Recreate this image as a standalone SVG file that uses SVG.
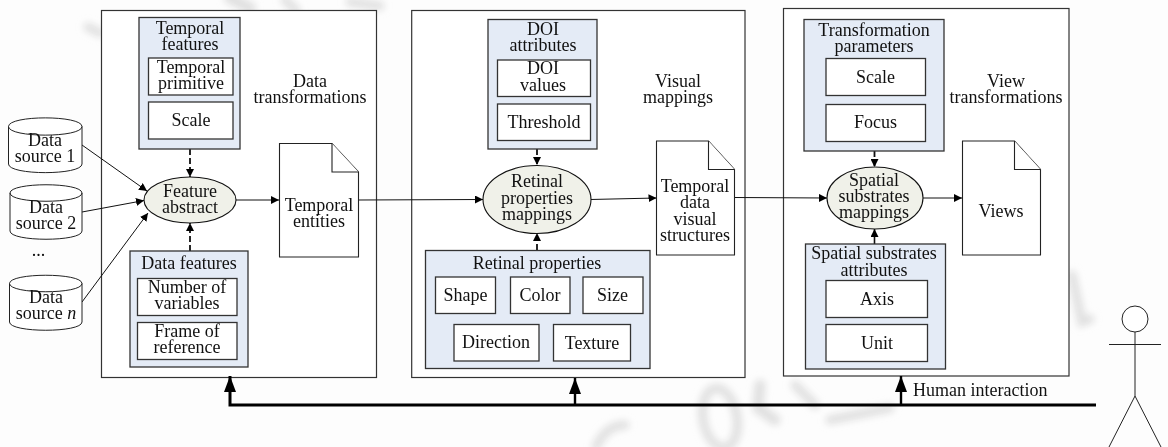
<svg xmlns="http://www.w3.org/2000/svg" width="1168" height="447" viewBox="0 0 1168 447">
<style>
text{font-family:"Liberation Serif","Times New Roman",serif;font-size:18px;fill:#111;text-anchor:middle}
.panel{fill:#fff;stroke:#333;stroke-width:1.2}
.group{fill:#e4ebf6;stroke:#333;stroke-width:1.3}
.item{fill:#fff;stroke:#333;stroke-width:1.3}
.oval{fill:#f0f1e9;stroke:#111;stroke-width:1.1}
.doc{fill:#fff;stroke:#222;stroke-width:1.1;stroke-linejoin:miter}
.cyl{fill:#fff;stroke:#222;stroke-width:1}
.arc{fill:none;stroke:#222;stroke-width:1}
.flow{fill:none;stroke:#111;stroke-width:1;marker-end:url(#a)}
.dash{fill:none;stroke:#111;stroke-width:1.8;stroke-dasharray:6 3;marker-end:url(#a)}
.solid{fill:none;stroke:#111;stroke-width:1.6;marker-end:url(#a)}
.thick{fill:none;stroke:#000;stroke-width:3;marker-end:url(#c)}
.stem{fill:none;stroke:#000;stroke-width:2.4;marker-end:url(#c)}
.wm{fill:none;stroke:#e0e0e0;stroke-linecap:round}
</style>
<defs>
<marker id="a" markerUnits="userSpaceOnUse" markerWidth="9" markerHeight="8" refX="8" refY="4" orient="auto"><path d="M0 0L8 4L0 8Z" fill="#000"/></marker>
<marker id="c" markerUnits="userSpaceOnUse" markerWidth="17" markerHeight="13" refX="16" refY="6" orient="auto"><path d="M0 0L16 6L0 12Z" fill="#000"/></marker>
<filter id="blur" x="-50%" y="-50%" width="200%" height="200%"><feGaussianBlur stdDeviation="3.500"/></filter>
</defs>
<rect id="background" width="1168" height="447" fill="#fdfdfd"/>
<g id="watermark" filter="url(#blur)">
<path class="wm" stroke-width="9" d="M88 27L100 33"/>
<path class="wm" stroke-width="12" d="M230 -2L250 8"/>
<path class="wm" stroke-width="9" d="M285 0L296 10"/>
<path class="wm" stroke-width="9" d="M350 2L380 6"/>
<ellipse class="wm" stroke-width="9" cx="720" cy="418" rx="17" ry="30" transform="rotate(-10 720 418)"/>
<path class="wm" stroke-width="11" d="M760 385L758 408L775 420"/>
<path class="wm" stroke-width="9" d="M596 447Q606 425 625 425"/>
<path class="wm" stroke-width="9" d="M1072 275L1082 322L1090 319"/>
<path class="wm" stroke-width="9" d="M795 385L815 405"/>
<path class="wm" stroke-width="9" d="M830 420L890 408"/>
</g>
<g id="panel-data-transformations"><rect class="panel" x="101.500" y="10.500" width="275" height="367"/><text x="310" y="87">Data</text><text x="310" y="103">transformations</text></g>
<g id="panel-visual-mappings"><rect class="panel" x="411.700" y="10.500" width="333.300" height="367"/><text x="678" y="87">Visual</text><text x="678" y="103">mappings</text></g>
<g id="panel-view-transformations"><rect class="panel" x="783.500" y="8.500" width="285.500" height="367.500"/><text x="1006" y="87">View</text><text x="1006" y="103">transformations</text></g>

<g id="connectors">
<path class="flow" d="M82 145L147 191"/>
<path class="flow" d="M82 212L144 200.500"/>
<path class="flow" d="M82 302L148 213"/>
<path class="flow" d="M236 200H279"/>
<path class="flow" d="M358.500 200L483 199.500"/>
<path class="flow" d="M590 199.500L656.500 198"/>
<path class="flow" d="M734.500 197.500L827 198"/>
<path class="flow" d="M923 198H962"/>
<path class="dash" d="M190 149V177"/>
<path class="dash" d="M190 251V223"/>
<path class="dash" d="M537 149V165"/>
<path class="dash" d="M537 250V233"/>
<path class="dash" d="M874.500 151V167"/>
<path class="solid" d="M874.500 244V229"/>
<path class="thick" d="M1096 405H230V376"/>
<path class="stem" d="M575 404V378"/>
<path class="stem" d="M901 404V376"/>
</g>

<g id="source-1"><path class="cyl" d="M8.500 126.500C8.500 115 82 115 82 126.500V164C82 175.500 8.500 175.500 8.500 164Z"/><path class="arc" d="M8.500 126.500C8.500 138 82 138 82 126.500"/><text x="45" y="146">Data</text><text x="45" y="162">source 1</text></g>
<g id="source-2"><path class="cyl" d="M10 193C10 182 82 182 82 193V231C82 242 10 242 10 231Z"/><path class="arc" d="M10 193C10 204 82 204 82 193"/><text x="46" y="213">Data</text><text x="46" y="229">source 2</text></g>
<text id="ellipsis" x="38.500" y="256">...</text>
<g id="source-n"><path class="cyl" d="M9.500 283.500C9.500 272.500 82 272.500 82 283.500V322C82 333 9.500 333 9.500 322Z"/><path class="arc" d="M9.500 283.500C9.500 294.500 82 294.500 82 283.500"/><text x="46" y="303">Data</text><text x="46" y="319">source <tspan font-style="italic">n</tspan></text></g>

<g id="temporal-features"><rect class="group" x="139" y="17.500" width="101" height="131.500"/><text x="190" y="33.500">Temporal</text><text x="190" y="50">features</text>
<rect class="item" x="148.500" y="58" width="84.500" height="37"/><text x="191" y="72.500">Temporal</text><text x="191" y="89">primitive</text>
<rect class="item" x="148.500" y="102" width="84.500" height="37"/><text x="191" y="126">Scale</text></g>
<g id="data-features"><rect class="group" x="130" y="251" width="118" height="116"/><text x="189" y="269">Data features</text>
<rect class="item" x="137.500" y="278.500" width="99.500" height="37"/><text x="187" y="293">Number of</text><text x="187" y="309">variables</text>
<rect class="item" x="137.500" y="322.500" width="99.500" height="37"/><text x="187" y="337">Frame of</text><text x="187" y="353">reference</text></g>
<g id="feature-abstract"><ellipse class="oval" cx="190" cy="200" rx="46" ry="23"/><text x="190" y="197">Feature</text><text x="190" y="213">abstract</text></g>
<g id="temporal-entities"><path class="doc" d="M279.500 143.500H332L358.500 172V257H279.500Z"/><path class="doc" fill="none" d="M332 143.500V172H358.500"/><text x="319" y="211">Temporal</text><text x="319" y="227">entities</text></g>

<g id="doi-attributes"><rect class="group" x="488" y="19.500" width="109" height="129.500"/><text x="543" y="35">DOI</text><text x="543" y="51">attributes</text>
<rect class="item" x="497.500" y="60" width="93" height="36.500"/><text x="543" y="74">DOI</text><text x="543" y="90.500">values</text>
<rect class="item" x="497.500" y="104" width="93" height="36.500"/><text x="544" y="128">Threshold</text></g>
<g id="retinal-mappings"><ellipse class="oval" cx="537" cy="199.500" rx="54" ry="34"/><text x="537" y="187">Retinal</text><text x="537" y="204">properties</text><text x="537" y="220">mappings</text></g>
<g id="retinal-properties"><rect class="group" x="425.500" y="250.500" width="224.500" height="118"/><text x="537" y="269">Retinal properties</text>
<rect class="item" x="435.500" y="277" width="60" height="36.500"/><text x="465.500" y="301">Shape</text>
<rect class="item" x="510.500" y="277" width="59.500" height="36.500"/><text x="540" y="301">Color</text>
<rect class="item" x="583" y="277" width="60" height="36.500"/><text x="612.500" y="301">Size</text>
<rect class="item" x="454" y="324.500" width="85" height="36.500"/><text x="496" y="348">Direction</text>
<rect class="item" x="553.500" y="324.500" width="77" height="36.500"/><text x="592" y="349">Texture</text></g>
<g id="temporal-visual-structures"><path class="doc" d="M656.500 141H708.500L734.500 169.500V255H656.500Z"/><path class="doc" d="M708.500 141V169.500H734.500" fill="none"/><text x="695" y="192">Temporal</text><text x="695" y="208">data</text><text x="695" y="224.500">visual</text><text x="695" y="240.500">structures</text></g>

<g id="transformation-parameters"><rect class="group" x="804" y="19.500" width="140" height="131.500"/><text x="874" y="36">Transformation</text><text x="874" y="52">parameters</text>
<rect class="item" x="826" y="58.500" width="99.500" height="37"/><text x="875.500" y="83">Scale</text>
<rect class="item" x="826" y="104.500" width="99.500" height="37"/><text x="875.500" y="128">Focus</text></g>
<g id="spatial-mappings"><ellipse class="oval" cx="875" cy="198" rx="48" ry="31"/><text x="874" y="186">Spatial</text><text x="874" y="202">substrates</text><text x="874" y="218">mappings</text></g>
<g id="spatial-attributes"><rect class="group" x="805.500" y="244" width="140" height="125"/><text x="874" y="259">Spatial substrates</text><text x="874" y="276">attributes</text>
<rect class="item" x="826" y="280.500" width="101.500" height="37"/><text x="877" y="305">Axis</text>
<rect class="item" x="826" y="324.500" width="101.500" height="37"/><text x="877" y="349">Unit</text></g>
<g id="views"><path class="doc" d="M962.500 141H1014.500L1040.500 169.500V255H962.500Z"/><path class="doc" d="M1014.500 141V169.500H1040.500" fill="none"/><text x="1001" y="217">Views</text></g>

<text id="human-interaction" x="913" y="396" style="text-anchor:start">Human interaction</text>
<g id="actor" fill="none" stroke="#222" stroke-width="1"><circle cx="1135" cy="319" r="13" fill="#fff"/><path d="M1135 332V396M1109 344.500H1161M1109 447L1135 396L1161 447"/></g>
</svg>
